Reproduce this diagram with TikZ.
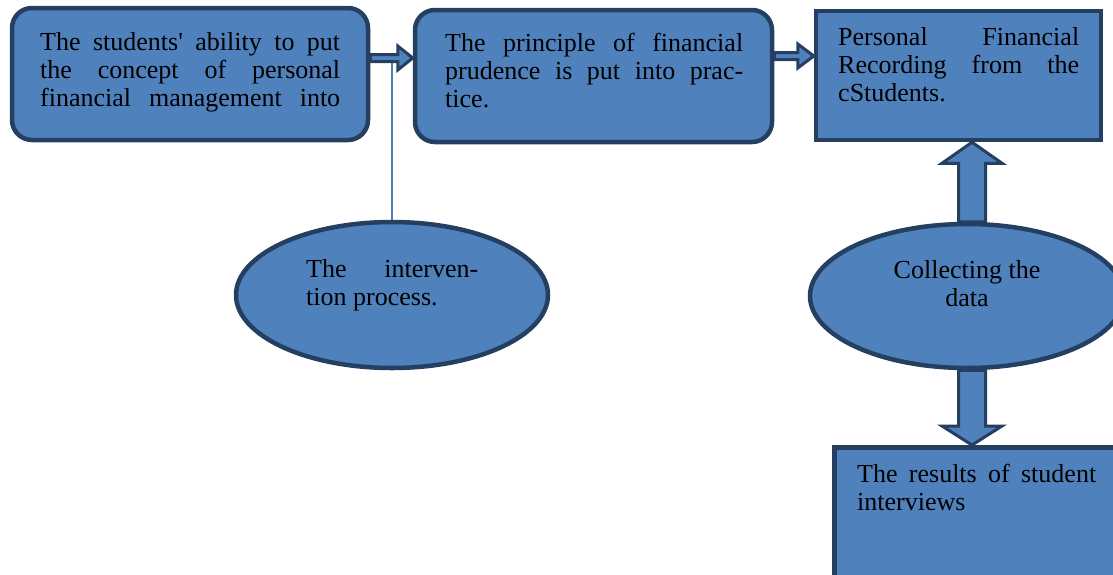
\documentclass[tikz,border=0pt]{standalone}
\usepackage{fontspec}
\setmainfont{Liberation Serif}
\usetikzlibrary{calc,shapes.geometric}
\definecolor{fillblue}{HTML}{4F81BD}
\definecolor{edgeblue}{HTML}{243F60}
\definecolor{thinblue}{HTML}{4A7EBB}
\tikzset{
  shapebox/.style={draw=edgeblue, fill=fillblue, line width=4.5pt, inner sep=0pt},
  roundbox/.style={shapebox, rounded corners=20pt},
  ovalbox/.style={shapebox, ellipse},
  txt/.style={anchor=base west, inner sep=0pt, align=left, font=\fontsize{26}{28}\selectfont},
  ctxt/.style={anchor=base, inner sep=0pt, align=center, font=\fontsize{26}{28}\selectfont},
  barrow/.style={draw=edgeblue, fill=fillblue, line width=3pt, line join=miter},
  thinline/.style={draw=thinblue, line width=1.5pt}
}
\begin{document}
\begin{tikzpicture}[x=1pt,y=1pt]
\useasboundingbox (0,0) rectangle (1113,-574);
\clip (0,0) rectangle (1113,-574);
% boxes
\node[roundbox, minimum width=356pt, minimum height=132pt] (b1) at (190,-74) {};
\node[roundbox, minimum width=357pt, minimum height=132pt] (b2) at (593.5,-76) {};
\node[shapebox, minimum width=285pt, minimum height=129pt] (b3) at (958.5,-75.5) {};
\node[shapebox, anchor=north west, minimum width=300pt, minimum height=160pt] (b4) at (832,-445) {};
\node[ovalbox, minimum width=312pt, minimum height=146pt] (e1) at (392,-295) {};
\node[ovalbox, minimum width=314pt, minimum height=144pt] (e2) at (967,-296) {};
% connector coordinates
\coordinate (a1s) at (b1.east |- 0,-58);
\coordinate (a1e) at (b2.west |- 0,-58);
\coordinate (a2s) at (b2.east |- 0,-56);
\coordinate (a2e) at (b3.west |- 0,-56);
\coordinate (a3b) at ($(e2.north)+(5,0)$);
\coordinate (a3t) at (b3.south -| a3b);
\coordinate (a4t) at ($(e2.south)+(5,0)$);
\coordinate (a4b) at (b4.north -| a4t);
% thin line
\draw[thinline] (e1.north) -- (e1.north |- a1s);
% block arrows
\draw[barrow] ($(a1s)+(0,3.5)$) -- ($(a1e)+(-15,3.5)$) -- ($(a1e)+(-15,12)$) -- (a1e)
  -- ($(a1e)+(-15,-12)$) -- ($(a1e)+(-15,-3.5)$) -- ($(a1s)+(0,-3.5)$) -- cycle;
\draw[barrow] ($(a2s)+(0,3.5)$) -- ($(a2e)+(-16,3.5)$) -- ($(a2e)+(-16,12)$) -- (a2e)
  -- ($(a2e)+(-16,-12)$) -- ($(a2e)+(-16,-3.5)$) -- ($(a2s)+(0,-3.5)$) -- cycle;
\draw[barrow] ($(a3b)+(-13.5,0)$) -- ($(a3t)+(-13.5,-21)$) -- ($(a3t)+(-30,-21)$) -- (a3t)
  -- ($(a3t)+(30,-21)$) -- ($(a3t)+(13.5,-21)$) -- ($(a3b)+(13.5,0)$) -- cycle;
\draw[barrow] ($(a4t)+(-13.5,0)$) -- ($(a4b)+(-13.5,19)$) -- ($(a4b)+(-30,19)$) -- (a4b)
  -- ($(a4b)+(30,19)$) -- ($(a4b)+(13.5,19)$) -- ($(a4t)+(13.5,0)$) -- cycle;
% texts
\node[txt] (t1) at (40,-106) {\makebox[300pt][s]{The students\textquotesingle{} ability to put}\\\makebox[300pt][s]{the concept of personal}\\\makebox[300pt][s]{financial management into}};
\node[txt] (t2) at (445,-107) {\makebox[298pt][s]{The principle of financial}\\\makebox[298pt][s]{prudence is put into prac-}\\tice.};
\node[txt] (t3) at (838,-101) {\makebox[241pt][s]{Personal Financial}\\\makebox[241pt][s]{Recording from the}\\cStudents.};
\node[txt] (t4) at (857,-510) {\makebox[239pt][s]{The results of student}\\interviews};
\node[txt] (t5) at (306,-305) {\makebox[172pt][s]{The interven-}\\tion process.};
\node[ctxt] (t6) at (967,-306) {Collecting the\\data};
\end{tikzpicture}
\end{document}
